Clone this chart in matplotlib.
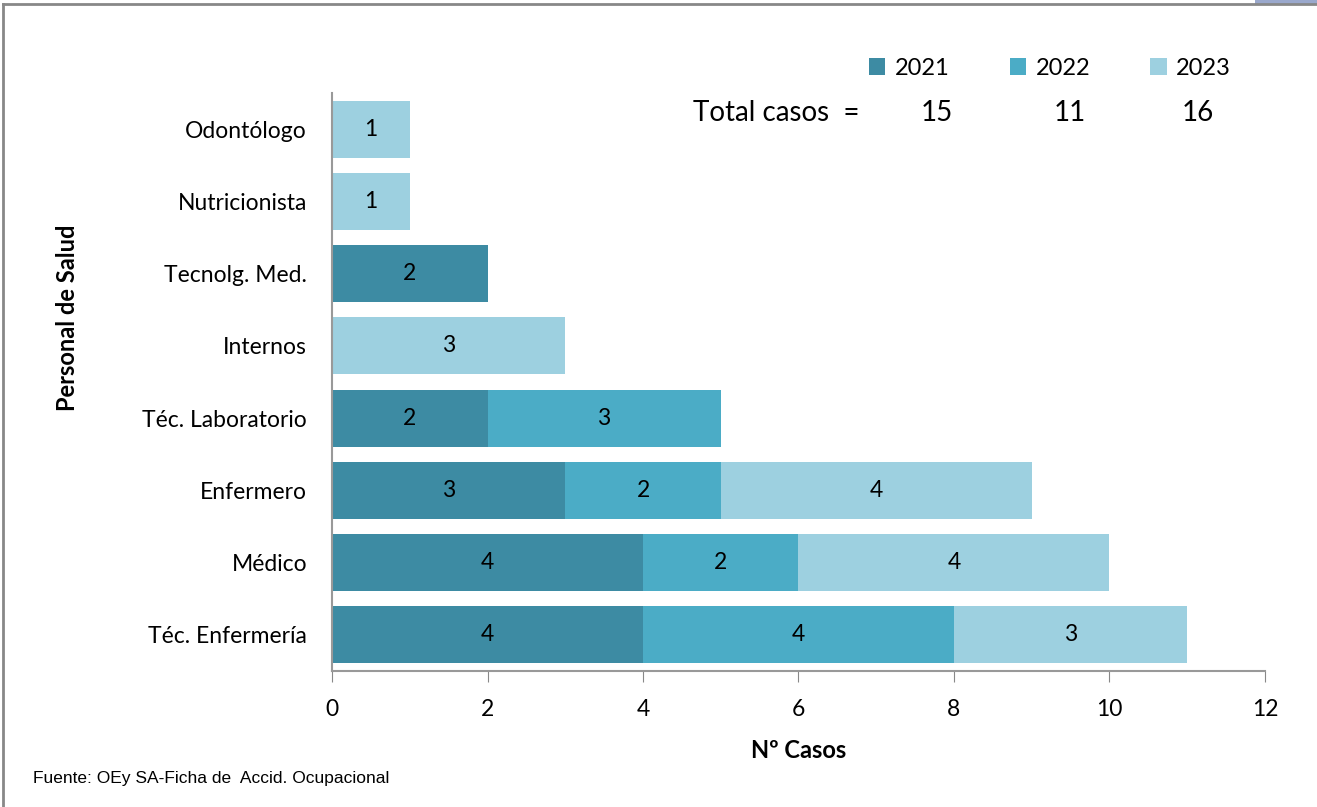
import matplotlib.pyplot as plt
import numpy as np
from matplotlib.lines import Line2D
from matplotlib.patches import Rectangle

# Data (bottom to top, as drawn)
categorias = ["Téc. Enfermería", "Médico", "Enfermero", "Téc. Laboratorio",
              "Internos", "Tecnolg. Med.", "Nutricionista", "Odontólogo"]
anios = ["2021", "2022", "2023"]
casos_2021 = [4, 4, 3, 2, 0, 2, 0, 0]
casos_2022 = [4, 2, 2, 3, 0, 0, 0, 0]
casos_2023 = [3, 4, 4, 0, 3, 0, 1, 1]
colores = ["#3D8BA3", "#4BACC6", "#9DD0E0"]

plt.rcParams['font.family'] = ['Lato', 'DejaVu Sans']

W, H = 1317, 807
fig = plt.figure(figsize=[W / 100, H / 100], dpi=100)
ax = fig.add_axes([0.2521, 0.1685, 0.7084, 0.7163])

y = np.arange(len(categorias))
left = np.zeros(len(categorias))
for serie, color, lbl in zip([casos_2021, casos_2022, casos_2023], colores, anios):
    vals = np.array(serie, dtype=float)
    bars = ax.barh(y, vals, left=left, height=0.79, color=color, label=lbl)
    for b, v in zip(bars, vals):
        if v > 0:
            ax.text(b.get_x() + b.get_width() / 2, b.get_y() + b.get_height() / 2,
                    "%d" % v, ha="center", va="center", fontsize=16.5, color="black")
    left += vals

ax.set_xlim(0, 12)
ax.set_ylim(-0.5, len(categorias) - 0.5)
ax.set_xticks(np.arange(0, 13, 2))
ax.set_yticks(y)
ax.set_yticklabels(categorias)
ax.tick_params(axis="x", labelsize=16.5, length=8, color="#888888", pad=12)
ax.tick_params(axis="y", labelsize=16.5, length=0, pad=18)
for s in ["top", "right"]:
    ax.spines[s].set_visible(False)
for s in ["left", "bottom"]:
    ax.spines[s].set_color("#999999")
    ax.spines[s].set_linewidth(1.5)

ax.set_xlabel("Nº Casos", fontsize=17, fontweight="bold", labelpad=14)
ax.set_ylabel("Personal de Salud", fontsize=17, fontweight="bold", va="center")
ax.yaxis.set_label_coords(-0.284, 0.612)

# Legend
ax.legend(loc="lower left", bbox_to_anchor=(0.565, 1.008), ncol=3, frameon=False,
          fontsize=17, handlelength=0.7, handleheight=0.7, handletextpad=0.4,
          columnspacing=2.55, borderaxespad=0)

# Total row
totales = [sum(casos_2021), sum(casos_2022), sum(casos_2023)]
fig.text(776 / W, 1 - 113 / H, "Total casos  =", fontsize=20, ha="center", va="center")
for xp, t in zip([937, 1070, 1198], totales):
    fig.text(xp / W, 1 - 113 / H, str(t), fontsize=20, ha="center", va="center")

fig.text(33 / W, 1 - 779 / H, "Fuente: OEy SA-Ficha de  Accid. Ocupacional",
         fontsize=12.5, family="Liberation Sans", va="center")

# outer frame (left and top edges only visible)
fig.add_artist(Line2D([3.5 / W, 3.5 / W], [0, 1 - 3.5 / H], transform=fig.transFigure,
                      color="#888888", linewidth=2))
fig.add_artist(Line2D([3.5 / W, 1], [1 - 3.5 / H, 1 - 3.5 / H], transform=fig.transFigure,
                      color="#888888", linewidth=2))
fig.patches.append(Rectangle((1255 / W, 1 - 5 / H), 62 / W, 5 / H, transform=fig.transFigure,
                             facecolor="#9AA8CC", edgecolor="none"))

plt.savefig("out.png", dpi=100)
